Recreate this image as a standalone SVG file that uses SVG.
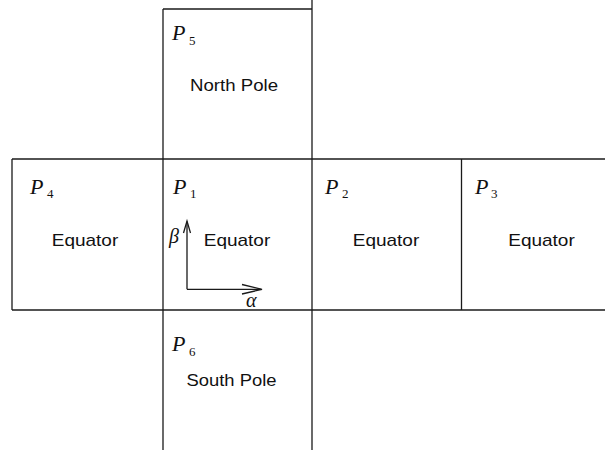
<svg xmlns="http://www.w3.org/2000/svg" width="605" height="450" viewBox="0 0 605 450">
<defs>
<style>
.ln{stroke:#1a1a1a;stroke-width:1.3;fill:none}
.lbl{font-family:"Liberation Sans",Arial,sans-serif;font-size:17px;fill:#111;text-anchor:middle}
.p{font-family:"Liberation Serif","Times New Roman",serif;font-style:italic;font-size:22px;fill:#111}
.s{font-family:"Liberation Serif","Times New Roman",serif;font-size:13px;fill:#111}
.g{font-family:"Liberation Serif","Times New Roman",serif;font-style:italic;font-size:20px;fill:#111}
</style>
</defs>
<rect width="605" height="450" fill="#fff"/>
<g id="grid">
<path class="ln" d="M163,9 H312"/>
<path class="ln" d="M12,159 H605"/>
<path class="ln" d="M12,310 H605"/>
<path class="ln" d="M12,159 V310"/>
<path class="ln" d="M163,9 V450"/>
<path class="ln" d="M312,0 V450"/>
<path class="ln" d="M461.5,159 V310"/>
</g>
<g id="P5"><text class="p" x="172" y="40">P</text><text class="s" x="189" y="45">5</text><text class="lbl" x="234" y="91" textLength="88" lengthAdjust="spacingAndGlyphs">North Pole</text></g>
<g id="P4"><text class="p" x="30" y="194">P</text><text class="s" x="47" y="198">4</text><text class="lbl" x="85" y="246" textLength="66.5" lengthAdjust="spacingAndGlyphs">Equator</text></g>
<g id="P1"><text class="p" x="173" y="194">P</text><text class="s" x="190" y="198">1</text><text class="lbl" x="237" y="246" textLength="66.5" lengthAdjust="spacingAndGlyphs">Equator</text>
<text class="g" x="169" y="243">β</text><text class="g" x="246" y="307">α</text></g>
<g id="P2"><text class="p" x="325" y="194">P</text><text class="s" x="342" y="198">2</text><text class="lbl" x="386" y="246" textLength="66.5" lengthAdjust="spacingAndGlyphs">Equator</text></g>
<g id="P3"><text class="p" x="475" y="194">P</text><text class="s" x="491" y="198">3</text><text class="lbl" x="541.5" y="246" textLength="66.5" lengthAdjust="spacingAndGlyphs">Equator</text></g>
<g id="P6"><text class="p" x="172" y="351">P</text><text class="s" x="189" y="356">6</text><text class="lbl" x="231.5" y="386" textLength="90" lengthAdjust="spacingAndGlyphs">South Pole</text></g>
<g id="connectors">
<path class="ln" d="M187,289.3 V221.5"/>
<path class="ln" d="M183.5,233 L187,221 L190.5,233"/>
<path class="ln" d="M187,289.3 H261"/>
<path class="ln" d="M242,284.5 L262,289.3 L242,294"/>
</g>
</svg>
